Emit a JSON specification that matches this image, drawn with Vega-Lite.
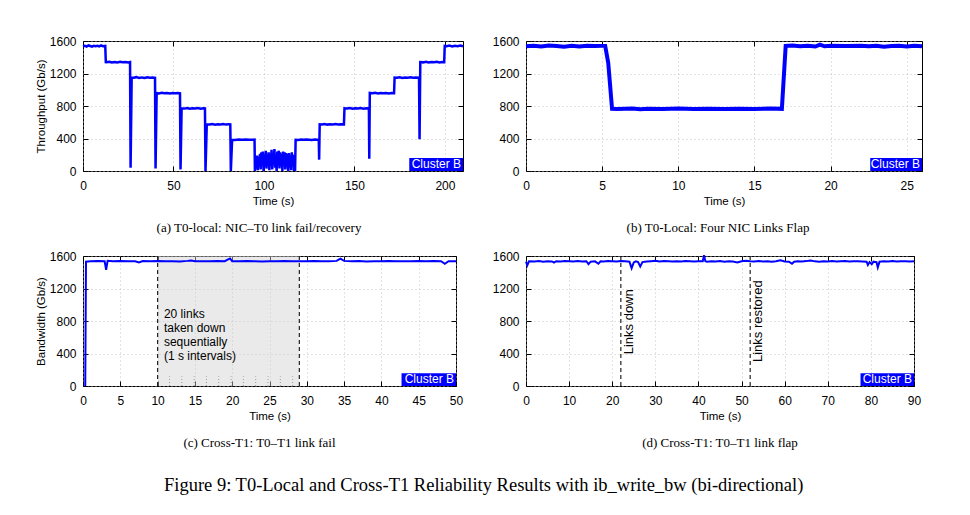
{
  "$schema": "https://vega.github.io/schema/vega-lite/v6.json",
  "background": "white",
  "padding": {"left": 34, "top": 34, "right": 5, "bottom": 5},
  "columns": 2,
  "spacing": {"row": 85, "column": 63},
  "bounds": "flush",
  "title": {"text": "Figure 9: T0-Local and Cross-T1 Reliability Results with ib_write_bw (bi-directional)", "orient": "bottom", "anchor": "middle", "frame": "bounds", "font": "Liberation Serif", "fontSize": 18.5, "fontWeight": "normal", "color": "black", "offset": 26, "dx": 1},
  "concat": [
    {
      "width": 380, "height": 130,
      "title": {"text": "(a) T0-local: NIC–T0 link fail/recovery", "orient": "bottom", "anchor": "middle", "frame": "group", "offset": 15, "dx": -14},
      "resolve": {"axis": {"x": "independent", "y": "independent"}},
      "layer": [
        {
          "data": {"values": [
            {"t":0,"v":1535},{"t":1,"v":1540},{"t":2,"v":1532},{"t":3,"v":1545},{"t":4,"v":1538},{"t":5,"v":1530},{"t":6,"v":1542},{"t":7,"v":1536},{"t":8,"v":1540},{"t":9,"v":1533},{"t":10,"v":1545},{"t":11,"v":1537},{"t":12.3,"v":1540},
            {"t":12.6,"v":1340},{"t":13,"v":1338},{"t":14.5,"v":1345},{"t":16,"v":1335},{"t":17.5,"v":1342},{"t":19,"v":1336},{"t":20.5,"v":1344},{"t":22,"v":1338},{"t":23.5,"v":1342},{"t":25,"v":1335},{"t":26.0,"v":1340},
            {"t":26.3,"v":40},{"t":26.9,"v":1150},{"t":28,"v":1148},{"t":29.5,"v":1155},{"t":31,"v":1145},{"t":32.5,"v":1152},{"t":34,"v":1146},{"t":35.5,"v":1154},{"t":37,"v":1148},{"t":38.5,"v":1150},{"t":39.8,"v":1147},
            {"t":40.1,"v":30},{"t":40.7,"v":960},{"t":42,"v":955},{"t":43.5,"v":962},{"t":45,"v":956},{"t":46.5,"v":960},{"t":48,"v":954},{"t":49.5,"v":961},{"t":51,"v":957},{"t":52.5,"v":959},{"t":53.6,"v":956},
            {"t":53.9,"v":20},{"t":54.5,"v":770},{"t":56,"v":768},{"t":57.5,"v":775},{"t":59,"v":766},{"t":60.5,"v":772},{"t":62,"v":769},{"t":63.5,"v":774},{"t":65,"v":767},{"t":66.5,"v":771},{"t":67.4,"v":770},
            {"t":67.7,"v":0},{"t":68.4,"v":575},{"t":70,"v":572},{"t":71.5,"v":578},{"t":73,"v":570},{"t":74.5,"v":576},{"t":76,"v":573},{"t":77.5,"v":578},{"t":79,"v":571},{"t":80.5,"v":575},{"t":81.4,"v":574},
            {"t":81.7,"v":0},{"t":82.4,"v":385},{"t":84,"v":383},{"t":86,"v":388},{"t":88,"v":384},{"t":90,"v":387},{"t":92,"v":385},{"t":94,"v":384},{"t":94.8,"v":386},
            {"t":95,"v":0},{"t":95.4,"v":150},{"t":95.8,"v":30},{"t":96.2,"v":190},{"t":96.6,"v":10},{"t":97,"v":170},{"t":97.4,"v":60},{"t":97.8,"v":210},{"t":98.2,"v":20},{"t":98.6,"v":230},{"t":99,"v":80},{"t":99.4,"v":240},{"t":99.8,"v":0},{"t":100.2,"v":200},{"t":100.6,"v":50},{"t":101,"v":250},{"t":101.4,"v":30},{"t":101.8,"v":190},{"t":102.2,"v":100},{"t":102.6,"v":230},{"t":103,"v":10},{"t":103.4,"v":210},{"t":103.8,"v":70},{"t":104.2,"v":260},{"t":104.6,"v":20},{"t":105,"v":220},{"t":105.4,"v":120},{"t":105.8,"v":270},{"t":106.2,"v":40},{"t":106.6,"v":200},{"t":107,"v":0},{"t":107.4,"v":240},{"t":107.8,"v":90},{"t":108.2,"v":250},{"t":108.6,"v":30},{"t":109,"v":230},{"t":109.4,"v":60},{"t":109.8,"v":210},{"t":110.2,"v":0},{"t":110.6,"v":240},{"t":111,"v":80},{"t":111.4,"v":230},{"t":111.8,"v":20},{"t":112.2,"v":220},{"t":112.6,"v":50},{"t":113,"v":210},{"t":113.4,"v":0},{"t":113.8,"v":220},{"t":114.2,"v":40},{"t":114.6,"v":190},{"t":115,"v":10},{"t":115.4,"v":230},{"t":115.8,"v":60},{"t":116.2,"v":200},{"t":116.6,"v":0},{"t":117,"v":150},{"t":117.2,"v":0},
            {"t":117.5,"v":385},{"t":119,"v":383},{"t":120.5,"v":388},{"t":122,"v":384},{"t":123.5,"v":387},{"t":125,"v":385},{"t":126.5,"v":383},{"t":128,"v":387},{"t":129.5,"v":384},{"t":130.3,"v":386},
            {"t":130.5,"v":140},{"t":130.8,"v":575},{"t":132,"v":572},{"t":133.5,"v":578},{"t":135,"v":571},{"t":136.5,"v":576},{"t":138,"v":573},{"t":139.5,"v":577},{"t":141,"v":572},{"t":142.5,"v":575},{"t":144.2,"v":574},
            {"t":144.5,"v":770},{"t":146,"v":768},{"t":147.5,"v":774},{"t":149,"v":766},{"t":150.5,"v":772},{"t":152,"v":769},{"t":153.5,"v":775},{"t":155,"v":767},{"t":156.5,"v":771},{"t":158,"v":770},
            {"t":158.2,"v":150},{"t":158.5,"v":960},{"t":160,"v":956},{"t":161.5,"v":962},{"t":163,"v":955},{"t":164.5,"v":960},{"t":166,"v":957},{"t":167.5,"v":961},{"t":169,"v":955},{"t":170.5,"v":959},{"t":171.9,"v":957},
            {"t":172.2,"v":1150},{"t":173.5,"v":1148},{"t":175,"v":1154},{"t":176.5,"v":1146},{"t":178,"v":1152},{"t":179.5,"v":1147},{"t":181,"v":1153},{"t":182.5,"v":1148},{"t":184,"v":1151},{"t":185.7,"v":1148},
            {"t":186,"v":390},{"t":186.4,"v":1340},{"t":188,"v":1337},{"t":189.5,"v":1344},{"t":191,"v":1336},{"t":192.5,"v":1342},{"t":194,"v":1338},{"t":195.5,"v":1343},{"t":197,"v":1336},{"t":198.5,"v":1341},{"t":199.6,"v":1339},
            {"t":199.9,"v":1540},{"t":201,"v":1536},{"t":202.5,"v":1543},{"t":204,"v":1534},{"t":205.5,"v":1541},{"t":207,"v":1537},{"t":208.5,"v":1544},{"t":210,"v":1536}
          ]},
          "mark": {"type": "line", "color": "#0000ff", "strokeWidth": 2.5},
          "encoding": {
            "x": {"field": "t", "type": "quantitative", "scale": {"domain": [0, 210], "nice": false, "zero": false}, "axis": {"values": [0, 50, 100, 150, 200], "title": "Time (s)"}},
            "y": {"field": "v", "type": "quantitative", "scale": {"domain": [0, 1600], "nice": false}, "axis": {"values": [0, 400, 800, 1200, 1600], "title": "Throughput (Gb/s)"}}
          }
        },
        {
          "data": {"values": [{"x1": 180.3, "x2": 210, "y1": 0, "y2": 160}]},
          "mark": {"type": "rect", "color": "#0000ff"},
          "encoding": {
            "x": {"field": "x1", "type": "quantitative", "axis": {"orient": "top", "labels": false, "grid": false, "title": null, "values": [0, 50, 100, 150, 200]}},
            "x2": {"field": "x2"},
            "y": {"field": "y1", "type": "quantitative", "axis": {"orient": "right", "labels": false, "grid": false, "title": null, "values": [0, 400, 800, 1200, 1600]}},
            "y2": {"field": "y2"}
          }
        },
        {
          "data": {"values": [{"x": 210, "y": 0, "label": "Cluster B"}]},
          "mark": {"type": "text", "color": "white", "align": "right", "baseline": "bottom", "dx": -2, "font": "Liberation Sans", "fontSize": 12},
          "encoding": {"x": {"field": "x", "type": "quantitative", "axis": null}, "y": {"field": "y", "type": "quantitative", "axis": null}, "text": {"field": "label"}}
        }
      ]
    },
    {
      "width": 396, "height": 130,
      "title": {"text": "(b) T0-Local: Four NIC Links Flap", "orient": "bottom", "anchor": "middle", "frame": "group", "offset": 15, "dx": -6},
      "resolve": {"axis": {"x": "independent", "y": "independent"}},
      "layer": [
        {
          "data": {"values": [
            {"t":0,"v":1535},{"t":0.5,"v":1540},{"t":1,"v":1532},{"t":1.5,"v":1545},{"t":2,"v":1538},{"t":2.5,"v":1530},{"t":3,"v":1540},{"t":3.5,"v":1533},{"t":4,"v":1542},{"t":4.5,"v":1538},{"t":5,"v":1540},{"t":5.2,"v":1540},
            {"t":5.4,"v":1330},{"t":5.65,"v":765},{"t":6,"v":762},{"t":7,"v":768},{"t":7.5,"v":760},{"t":8,"v":766},{"t":9,"v":764},{"t":10,"v":768},{"t":11,"v":763},{"t":12,"v":767},{"t":13,"v":762},{"t":14,"v":766},{"t":15,"v":764},{"t":16,"v":768},{"t":16.8,"v":765},
            {"t":17.05,"v":1540},{"t":17.5,"v":1545},{"t":18,"v":1535},{"t":18.5,"v":1540},{"t":19,"v":1532},{"t":19.3,"v":1555},{"t":19.6,"v":1535},{"t":20,"v":1540},{"t":21,"v":1537},{"t":22,"v":1542},{"t":22.5,"v":1535},{"t":23,"v":1540},{"t":23.5,"v":1530},{"t":24,"v":1538},{"t":24.5,"v":1542},{"t":25,"v":1533},{"t":25.5,"v":1540},{"t":26,"v":1536}
          ]},
          "mark": {"type": "line", "color": "#0000ff", "strokeWidth": 4},
          "encoding": {
            "x": {"field": "t", "type": "quantitative", "scale": {"domain": [0, 26], "nice": false, "zero": false}, "axis": {"values": [0, 5, 10, 15, 20, 25], "title": "Time (s)"}},
            "y": {"field": "v", "type": "quantitative", "scale": {"domain": [0, 1600], "nice": false}, "axis": {"values": [0, 400, 800, 1200, 1600], "title": null}}
          }
        },
        {
          "data": {"values": [{"x1": 22.6, "x2": 26, "y1": 0, "y2": 160}]},
          "mark": {"type": "rect", "color": "#0000ff"},
          "encoding": {
            "x": {"field": "x1", "type": "quantitative", "axis": {"orient": "top", "labels": false, "grid": false, "title": null, "values": [0, 5, 10, 15, 20, 25]}},
            "x2": {"field": "x2"},
            "y": {"field": "y1", "type": "quantitative", "axis": {"orient": "right", "labels": false, "grid": false, "title": null, "values": [0, 400, 800, 1200, 1600]}},
            "y2": {"field": "y2"}
          }
        },
        {
          "data": {"values": [{"x": 26, "y": 0, "label": "Cluster B"}]},
          "mark": {"type": "text", "color": "white", "align": "right", "baseline": "bottom", "dx": -2, "font": "Liberation Sans", "fontSize": 12},
          "encoding": {"x": {"field": "x", "type": "quantitative", "axis": null}, "y": {"field": "y", "type": "quantitative", "axis": null}, "text": {"field": "label"}}
        }
      ]
    },
    {
      "width": 373, "height": 130,
      "title": {"text": "(c) Cross-T1: T0–T1 link fail", "orient": "bottom", "anchor": "middle", "frame": "group", "offset": 15, "dx": -10},
      "resolve": {"axis": {"x": "independent", "y": "independent"}},
      "layer": [
        {
          "data": {"values": [{"x1": 10, "x2": 29, "y1": 0, "y2": 1600}]},
          "mark": {"type": "rect", "color": "#d0d0d0", "opacity": 0.45},
          "encoding": {
            "x": {"field": "x1", "type": "quantitative", "scale": {"domain": [0, 50], "nice": false, "zero": false}, "axis": {"values": [0, 5, 10, 15, 20, 25, 30, 35, 40, 45, 50], "title": "Time (s)"}},
            "x2": {"field": "x2"},
            "y": {"field": "y1", "type": "quantitative", "scale": {"domain": [0, 1600], "nice": false}, "axis": {"values": [0, 400, 800, 1200, 1600], "title": "Bandwidth (Gb/s)"}},
            "y2": {"field": "y2"}
          }
        },
        {
          "data": {"values": [{"t": 11.6}, {"t": 13.25}, {"t": 14.9}, {"t": 16.55}, {"t": 18.2}, {"t": 19.85}, {"t": 21.5}, {"t": 23.15}, {"t": 24.8}, {"t": 26.45}, {"t": 28.1}]},
          "mark": {"type": "rule", "color": "#999999", "strokeDash": [1, 2], "strokeWidth": 1},
          "encoding": {"x": {"field": "t", "type": "quantitative", "axis": null}, "y": {"datum": 0, "type": "quantitative", "axis": null}, "y2": {"datum": 120}}
        },
        {
          "data": {"values": [{"t": 10}, {"t": 29}]},
          "mark": {"type": "rule", "color": "#222222", "strokeDash": [4, 3], "strokeWidth": 1.2},
          "encoding": {"x": {"field": "t", "type": "quantitative", "axis": null}}
        },
        {
          "data": {"values": [
            {"t":0.3,"v":0},{"t":0.4,"v":1530},{"t":1,"v":1535},{"t":2,"v":1538},{"t":2.9,"v":1535},{"t":3.1,"v":1430},{"t":3.3,"v":1540},{"t":4,"v":1535},{"t":5,"v":1537},{"t":6,"v":1534},{"t":7,"v":1536},{"t":7.5,"v":1520},{"t":8,"v":1538},{"t":9,"v":1535},{"t":10,"v":1537},{"t":11,"v":1534},{"t":12,"v":1536},{"t":13,"v":1533},{"t":14,"v":1540},{"t":14.5,"v":1545},{"t":15,"v":1535},{"t":16,"v":1536},{"t":17,"v":1534},{"t":18,"v":1538},{"t":19,"v":1536},{"t":19.7,"v":1570},{"t":20,"v":1536},{"t":21,"v":1534},{"t":22,"v":1537},{"t":23,"v":1535},{"t":24,"v":1532},{"t":25,"v":1536},{"t":26,"v":1535},{"t":27,"v":1538},{"t":28,"v":1534},{"t":29,"v":1536},{"t":30,"v":1535},{"t":31,"v":1537},{"t":32,"v":1534},{"t":33,"v":1536},{"t":34,"v":1540},{"t":34.5,"v":1568},{"t":35,"v":1540},{"t":36,"v":1535},{"t":37,"v":1537},{"t":38,"v":1533},{"t":39,"v":1536},{"t":40,"v":1535},{"t":41,"v":1538},{"t":42,"v":1534},{"t":43,"v":1536},{"t":44,"v":1535},{"t":45,"v":1537},{"t":46,"v":1534},{"t":47,"v":1538},{"t":48,"v":1535},{"t":48.5,"v":1505},{"t":49,"v":1536},{"t":50,"v":1535}
          ]},
          "mark": {"type": "line", "color": "#0000ff", "strokeWidth": 2},
          "encoding": {"x": {"field": "t", "type": "quantitative", "axis": null}, "y": {"field": "v", "type": "quantitative", "axis": null}}
        },
        {
          "data": {"values": [{"t": 10.85, "v": 950, "label": ["20 links", "taken down", "sequentially", "(1 s intervals)"]}]},
          "mark": {"type": "text", "align": "left", "baseline": "top", "font": "Liberation Sans", "fontSize": 12, "lineHeight": 14, "color": "black"},
          "encoding": {"x": {"field": "t", "type": "quantitative", "axis": null}, "y": {"field": "v", "type": "quantitative", "axis": null}, "text": {"field": "label"}}
        },
        {
          "data": {"values": [{"x1": 42.7, "x2": 50, "y1": 0, "y2": 156}]},
          "mark": {"type": "rect", "color": "#0000ff"},
          "encoding": {
            "x": {"field": "x1", "type": "quantitative", "axis": {"orient": "top", "labels": false, "grid": false, "title": null, "values": [0, 5, 10, 15, 20, 25, 30, 35, 40, 45, 50]}},
            "x2": {"field": "x2"},
            "y": {"field": "y1", "type": "quantitative", "axis": {"orient": "right", "labels": false, "grid": false, "title": null, "values": [0, 400, 800, 1200, 1600]}},
            "y2": {"field": "y2"}
          }
        },
        {
          "data": {"values": [{"x": 50, "y": 0, "label": "Cluster B"}]},
          "mark": {"type": "text", "color": "white", "align": "right", "baseline": "bottom", "dx": -2, "font": "Liberation Sans", "fontSize": 12},
          "encoding": {"x": {"field": "x", "type": "quantitative", "axis": null}, "y": {"field": "y", "type": "quantitative", "axis": null}, "text": {"field": "label"}}
        }
      ]
    },
    {
      "width": 388, "height": 130,
      "title": {"text": "(d) Cross-T1: T0–T1 link flap", "orient": "bottom", "anchor": "middle", "frame": "group", "offset": 15, "dx": 0},
      "resolve": {"axis": {"x": "independent", "y": "independent"}},
      "layer": [
        {
          "data": {"values": [
            {"t":0,"v":1530},{"t":0.3,"v":1485},{"t":0.7,"v":1535},{"t":2,"v":1532},{"t":3,"v":1538},{"t":4,"v":1530},{"t":5,"v":1535},{"t":6,"v":1533},{"t":6.5,"v":1520},{"t":7,"v":1536},{"t":8,"v":1532},{"t":9,"v":1538},{"t":10,"v":1535},{"t":11,"v":1531},{"t":12,"v":1537},{"t":13,"v":1533},{"t":14,"v":1536},{"t":14.5,"v":1500},{"t":15,"v":1530},{"t":16,"v":1534},{"t":16.8,"v":1505},{"t":17.3,"v":1535},{"t":18,"v":1532},{"t":19,"v":1537},{"t":20,"v":1534},{"t":21,"v":1531},{"t":22,"v":1538},{"t":23,"v":1535},{"t":24,"v":1530},{"t":24.5,"v":1450},{"t":25,"v":1520},{"t":25.5,"v":1535},{"t":26,"v":1525},{"t":26.5,"v":1470},{"t":27,"v":1525},{"t":28,"v":1533},{"t":29,"v":1536},{"t":30,"v":1540},{"t":31,"v":1532},{"t":32,"v":1538},{"t":33,"v":1535},{"t":34,"v":1531},{"t":35,"v":1536},{"t":36,"v":1533},{"t":37,"v":1537},{"t":38,"v":1534},{"t":39,"v":1532},{"t":40,"v":1536},{"t":41,"v":1535},{"t":41.3,"v":1610},{"t":41.6,"v":1535},{"t":42,"v":1530},{"t":43,"v":1536},{"t":44,"v":1533},{"t":45,"v":1537},{"t":46,"v":1530},{"t":47,"v":1534},{"t":48,"v":1532},{"t":49,"v":1520},{"t":50,"v":1536},{"t":51,"v":1540},{"t":52,"v":1534},{"t":53,"v":1531},{"t":54,"v":1537},{"t":55,"v":1533},{"t":56,"v":1535},{"t":57,"v":1530},{"t":58,"v":1536},{"t":59,"v":1548},{"t":60,"v":1533},{"t":61,"v":1530},{"t":61.7,"v":1505},{"t":62.2,"v":1530},{"t":63,"v":1536},{"t":64,"v":1533},{"t":65,"v":1537},{"t":66,"v":1545},{"t":67,"v":1534},{"t":68,"v":1530},{"t":69,"v":1536},{"t":70,"v":1533},{"t":71,"v":1537},{"t":72,"v":1532},{"t":73,"v":1535},{"t":74,"v":1538},{"t":75,"v":1531},{"t":76,"v":1536},{"t":77,"v":1534},{"t":78,"v":1532},{"t":79,"v":1530},{"t":79.3,"v":1490},{"t":79.7,"v":1525},{"t":80.2,"v":1500},{"t":80.6,"v":1530},{"t":81.3,"v":1525},{"t":81.6,"v":1460},{"t":82,"v":1530},{"t":83,"v":1535},{"t":84,"v":1533},{"t":85,"v":1537},{"t":86,"v":1532},{"t":87,"v":1536},{"t":88,"v":1534},{"t":89,"v":1531},{"t":90,"v":1535}
          ]},
          "mark": {"type": "line", "color": "#0000ff", "strokeWidth": 2},
          "encoding": {
            "x": {"field": "t", "type": "quantitative", "scale": {"domain": [0, 90], "nice": false, "zero": false}, "axis": {"values": [0, 10, 20, 30, 40, 50, 60, 70, 80, 90], "title": "Time (s)"}},
            "y": {"field": "v", "type": "quantitative", "scale": {"domain": [0, 1600], "nice": false}, "axis": {"values": [0, 400, 800, 1200, 1600], "title": null}}
          }
        },
        {
          "data": {"values": [{"t": 22}, {"t": 52}]},
          "mark": {"type": "rule", "color": "#222222", "strokeDash": [4, 3], "strokeWidth": 1.2},
          "encoding": {"x": {"field": "t", "type": "quantitative", "axis": null}}
        },
        {
          "data": {"values": [{"t": 23.8, "v": 390, "label": "Links down"}, {"t": 53.9, "v": 295, "label": "Links restored"}]},
          "mark": {"type": "text", "angle": 270, "align": "left", "baseline": "middle", "font": "Liberation Sans", "fontSize": 13, "color": "black"},
          "encoding": {"x": {"field": "t", "type": "quantitative", "axis": null}, "y": {"field": "v", "type": "quantitative", "axis": null}, "text": {"field": "label"}}
        },
        {
          "data": {"values": [{"x1": 77.6, "x2": 90, "y1": 0, "y2": 156}]},
          "mark": {"type": "rect", "color": "#0000ff"},
          "encoding": {
            "x": {"field": "x1", "type": "quantitative", "axis": {"orient": "top", "labels": false, "grid": false, "title": null, "values": [0, 10, 20, 30, 40, 50, 60, 70, 80, 90]}},
            "x2": {"field": "x2"},
            "y": {"field": "y1", "type": "quantitative", "axis": {"orient": "right", "labels": false, "grid": false, "title": null, "values": [0, 400, 800, 1200, 1600]}},
            "y2": {"field": "y2"}
          }
        },
        {
          "data": {"values": [{"x": 90, "y": 0, "label": "Cluster B"}]},
          "mark": {"type": "text", "color": "white", "align": "right", "baseline": "bottom", "dx": -2, "font": "Liberation Sans", "fontSize": 12},
          "encoding": {"x": {"field": "x", "type": "quantitative", "axis": null}, "y": {"field": "y", "type": "quantitative", "axis": null}, "text": {"field": "label"}}
        }
      ]
    }
  ],
  "config": {
    "numberFormat": "d",
    "view": {"stroke": "black", "strokeWidth": 1},
    "title": {"font": "Liberation Serif", "fontSize": 13, "fontWeight": "normal", "color": "black"},
    "axis": {
      "labelFont": "Liberation Sans", "labelFontSize": 12, "labelColor": "black", "labelFlush": false, "labelOverlap": false,
      "titleFont": "Liberation Sans", "titleFontWeight": "normal", "titleColor": "black",
      "domain": false, "ticks": true, "tickColor": "black", "tickSize": -5, "tickWidth": 1,
      "gridColor": "#b5b5b5", "gridDash": [1, 3], "gridWidth": 0.8
    },
    "axisX": {"labelPadding": 14, "titleFontSize": 11.5, "titlePadding": 4},
    "axisY": {"labelPadding": 12, "titleFontSize": 11.5, "titlePadding": 3}
  }
}
